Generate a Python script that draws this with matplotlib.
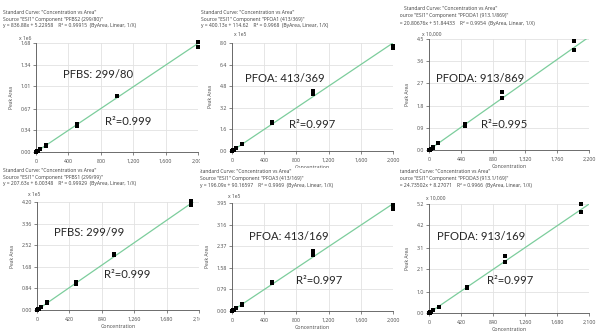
import matplotlib
matplotlib.use('Agg')
import matplotlib.pyplot as plt
from matplotlib.ticker import FuncFormatter, FixedLocator
from matplotlib.transforms import Bbox, TransformedBbox
import matplotlib.text as mtext

W, H = 604, 335

# ---------------- data ----------------
conc = [5, 5, 10, 10, 25, 25, 50, 50, 125, 125, 500, 500, 1000, 1000, 2000, 2000]

area_pfbs_299_80 = [0.004, 0.005, 0.008, 0.009, 0.021, 0.022, 0.042, 0.044, 0.100, 0.106, 0.430, 0.400, 0.865, 0.860, 1.690, 1.620]
area_pfoa_413_369 = [0.02, 0.03, 0.05, 0.05, 0.10, 0.11, 0.20, 0.21, 0.50, 0.52, 2.12, 2.07, 4.45, 4.25, 7.80, 7.60]
area_pfoda_913_869 = [0.01, 0.01, 0.02, 0.02, 0.05, 0.06, 0.10, 0.11, 0.28, 0.30, 1.04, 0.98, 2.36, 2.09, 4.40, 4.07]
area_pfbs_299_99 = [0.01, 0.01, 0.02, 0.02, 0.05, 0.05, 0.10, 0.11, 0.27, 0.30, 1.10, 1.02, 2.16, 2.14, 4.24, 4.07]
area_pfoa_413_169 = [0.01, 0.01, 0.02, 0.02, 0.05, 0.05, 0.10, 0.11, 0.23, 0.25, 1.05, 1.03, 2.18, 2.04, 3.86, 3.72]
area_pfoda_913_169 = [0.01, 0.01, 0.02, 0.03, 0.06, 0.07, 0.12, 0.13, 0.29, 0.31, 1.22, 1.17, 2.72, 2.43, 5.20, 4.82]

series = [area_pfbs_299_80, area_pfoa_413_369, area_pfoda_913_869,
          area_pfbs_299_99, area_pfoa_413_169, area_pfoda_913_169]

slopes = [836.88, 400.13, 20.80676, 207.63, 196.09, 24.73502]
intercepts = [5.22958, 114.62, 51.84433, 6.00348, 90.16597, 8.27071]
scales = [1e6, 1e5, 1e4, 1e5, 1e5, 1e4]
scale_labels = ["x 1e6", "x 1e5", "x 10,000", "x 1e5", "x 1e5", "x 10,000"]

titles = ["PFBS: 299/80", "PFOA: 413/369", "PFODA: 913/869",
          "PFBS: 299/99", "PFOA: 413/169", "PFODA: 913/169"]
r2_labels = ["R\u00b2=0.999", "R\u00b2=0.997", "R\u00b2=0.995",
             "R\u00b2=0.999", "R\u00b2=0.997", "R\u00b2=0.997"]

headers = [
    ['Standard Curve: "Concentration vs Area"',
     'Source "ESI1" Component "PFBS2 (299/80)"',
     'y = 836.88x + 5.22958    R\u00b2 = 0.99915  (ByArea, Linear, 1/X)'],
    ['Standard Curve: "Concentration vs Area"',
     'Source "ESI1" Component "PFOA1 (413/369)"',
     'y = 400.13x + 114.62    R\u00b2 = 0.9968  (ByArea, Linear, 1/X)'],
    ['Standard Curve: "Concentration vs Area"',
     'Source "ESI1" Component "PFODA1 (913.1/869)"',
     'y = 20.80676x + 51.84433    R\u00b2 = 0.9954  (ByArea, Linear, 1/X)'],
    ['Standard Curve: "Concentration vs Area"',
     'Source "ESI1" Component "PFBS1 (299/99)"',
     'y = 207.63x + 6.00348    R\u00b2 = 0.99929  (ByArea, Linear, 1/X)'],
    ['Standard Curve: "Concentration vs Area"',
     'Source "ESI1" Component "PFOA3 (413/169)"',
     'y = 196.09x + 90.16597    R\u00b2 = 0.9969  (ByArea, Linear, 1/X)'],
    ['Standard Curve: "Concentration vs Area"',
     'Source "ESI1" Component "PFODA3 (913.1/169)"',
     'y = 24.73502x + 8.27071    R\u00b2 = 0.9966  (ByArea, Linear, 1/X)'],
]

xtick_sets = [list(range(0, 2001, 400)), list(range(0, 2001, 400)), list(range(0, 2201, 440)),
              list(range(0, 2101, 420)), list(range(0, 2001, 400)), list(range(0, 2101, 420))]
ytick_sets = [[0, 0.34, 0.67, 1.01, 1.34, 1.68],
              [0, 1.6, 3.2, 4.8, 6.4, 8.0],
              [0, 0.9, 1.8, 2.7, 3.6, 4.5],
              [0, 0.84, 1.68, 2.52, 3.36, 4.20],
              [0, 0.79, 1.58, 2.37, 3.16, 3.95],
              [0, 1.0, 2.1, 3.1, 4.2, 5.2]]
ytick_dec = [2, 1, 1, 2, 2, 1]

# ---------------- layout (pixels) ----------------
axes_px = [(36, 198, 43, 152), (232, 393, 43, 151), (429, 589, 39, 150),
           (37, 199, 202, 310), (232, 393, 203, 311), (429, 589, 204, 313)]
regions = [(0, 200, 0, 166), (200, 400, 0, 168), (400, 604, 0, 168),
           (0, 200, 166, 335), (200, 400, 168, 335), (400, 604, 168, 335)]
header_x = [(3, 3, 3), (201, 201, 201), (404, 397, 396),
            (3, 3, 3), (198, 200, 200), (397, 397, 396)]
header_y = [12, 12, 9, 170, 171, 171]
mult_pos = [(25, 38), (240, 34), (432, 34), (34, 194), (234, 196), (436, 198)]
title_pos = [(98, 75), (285, 79), (480, 79), (89, 232), (289, 236), (481, 236)]
r2_pos = [(128, 121), (312, 125), (504, 125), (127, 275), (319, 281), (510, 281)]

small_font = 'Open Sans'
big_font = 'Lato'
tick_col = '#555555'
text_col = '#4a4a4a'
line_col = '#7ccd9c'

fig = plt.figure(figsize=(W / 100, H / 100), dpi=100)
fig.patch.set_facecolor('white')


def fx(x):
    return x / W


def fy(y):
    return 1 - y / H


clip_boxes = []
axes_list = []
for i in range(6):
    l, r, t, b = axes_px[i]
    ax = fig.add_axes([fx(l), fy(b), (r - l) / W, (b - t) / H])
    axes_list.append(ax)
    rx0, rx1, ry0, ry1 = regions[i]
    cb = TransformedBbox(Bbox([[fx(rx0), fy(ry1)], [fx(rx1), fy(ry0)]]), fig.transFigure)
    clip_boxes.append(cb)

    xmax = xtick_sets[i][-1]
    ymax = ytick_sets[i][-1]
    ax.set_xlim(0, xmax)
    ax.set_ylim(0, ymax)
    ax.xaxis.set_major_locator(FixedLocator(xtick_sets[i]))
    ax.yaxis.set_major_locator(FixedLocator(ytick_sets[i]))
    ax.xaxis.set_major_formatter(FuncFormatter(lambda v, p: f"{v:,.0f}"))
    d = ytick_dec[i]
    ax.yaxis.set_major_formatter(FuncFormatter(lambda v, p, d=d: f"{v:.{d}f}"))
    ax.grid(True, color='#e2e2e2', linewidth=0.6)
    ax.set_axisbelow(True)
    for s in ['top', 'right']:
        ax.spines[s].set_visible(False)
    for s in ['left', 'bottom']:
        ax.spines[s].set_color(tick_col)
        ax.spines[s].set_linewidth(0.6)
    ax.tick_params(length=2, width=0.5, color=tick_col, labelsize=3.8,
                   labelcolor=text_col)
    ax.tick_params(axis='x', pad=3)
    ax.tick_params(axis='y', pad=1.5)
    for lbl in ax.get_xticklabels() + ax.get_yticklabels():
        lbl.set_fontfamily(small_font)

    # fitted line
    xs = [0, xmax]
    ys = [(slopes[i] * x + intercepts[i]) / scales[i] for x in xs]
    ax.plot(xs, ys, color=line_col, linewidth=0.9, zorder=2)
    ax.scatter(conc, series[i], marker='s', s=9, color='black', zorder=3,
               clip_on=False, linewidths=0)

    ax.set_ylabel("Peak Area", fontsize=3.6, color=text_col, family=small_font, labelpad=5)
    ax.set_xlabel("Concentration", fontsize=3.8, color=text_col, family=small_font, labelpad=1.5)

    # multiplier
    mx, my = mult_pos[i]
    fig.text(fx(mx), fy(my), scale_labels[i], fontsize=3.6, color=text_col,
             family=small_font, ha='center', va='center')

    # header
    for k, line in enumerate(headers[i]):
        t_ = fig.text(fx(header_x[i][k]), fy(header_y[i] + 7 * k), line, fontsize=3.6,
                      color='#3e3e3e', family=small_font, ha='left', va='center')
        t_.set_clip_on(True)
        t_.set_clip_box(cb)

    tx, ty = title_pos[i]
    fig.text(fx(tx), fy(ty), titles[i], fontsize=8.1, color='#262626',
             family=big_font, ha='center', va='center')
    rx, ry = r2_pos[i]
    fig.text(fx(rx), fy(ry), r2_labels[i], fontsize=8.1, color='#262626',
             family=big_font, ha='center', va='center')

fig.canvas.draw()
for ax, cb in zip(axes_list, clip_boxes):
    for t_ in ax.findobj(mtext.Text):
        t_.set_clip_on(True)
        t_.set_clip_box(cb)

fig.savefig('out.png', dpi=100, facecolor='white')
